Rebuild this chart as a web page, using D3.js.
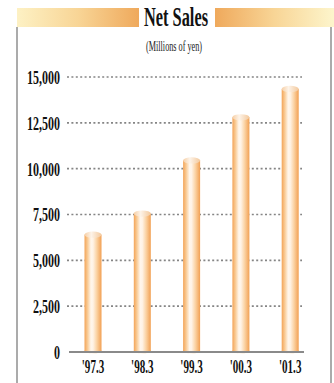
<!DOCTYPE html>
<html>
<head>
<meta charset="utf-8">
<script src="https://cdn.jsdelivr.net/npm/d3@7"></script>
<style>
html,body{margin:0;padding:0;background:#fff;}
svg{display:block;}
</style>
</head>
<body>
<svg id="chart" width="334" height="383"></svg>
<script>
const categories = ["'97.3", "'98.3", "'99.3", "'00.3", "'01.3"];
const netSales = [6400, 7550, 10450, 12800, 14350];
const tickValues = [0, 2500, 5000, 7500, 10000, 12500, 15000];
const titleText = "Net Sales";
const unitText = "(Millions of yen)";

const svg = d3.select("#chart");
const defs = svg.append("defs");
const serif = "'Liberation Serif','Times New Roman',serif";

// header gradients
const gL = defs.append("linearGradient").attr("id","hdrL").attr("x1","0").attr("x2","1");
gL.append("stop").attr("offset","0").attr("stop-color","#fdf1c4");
gL.append("stop").attr("offset","0.5").attr("stop-color","#f8d596");
gL.append("stop").attr("offset","1").attr("stop-color","#efa95c");
const gR = defs.append("linearGradient").attr("id","hdrR").attr("x1","0").attr("x2","1");
gR.append("stop").attr("offset","0").attr("stop-color","#efa95c");
gR.append("stop").attr("offset","0.5").attr("stop-color","#f8d596");
gR.append("stop").attr("offset","1").attr("stop-color","#fdf5cc");

// bar gradient
const gb = defs.append("linearGradient").attr("id","barG").attr("x1","0").attr("x2","1");
[["0","#f3a458"],["0.18","#f9cb95"],["0.38","#fff6ec"],["0.5","#fff3e6"],["0.72","#fbd3a4"],["1","#f2a053"]]
  .forEach(([o,c])=>gb.append("stop").attr("offset",o).attr("stop-color",c));
const gc = defs.append("linearGradient").attr("id","capG").attr("x1","0").attr("x2","1");
[["0","#f6cfa6"],["0.4","#fdf3e8"],["1","#f3c99d"]]
  .forEach(([o,c])=>gc.append("stop").attr("offset",o).attr("stop-color",c));

// header
svg.append("rect").attr("x",17).attr("y",8).attr("width",122).attr("height",19).attr("fill","url(#hdrL)");
svg.append("rect").attr("x",215).attr("y",8).attr("width",119).attr("height",19).attr("fill","url(#hdrR)");
svg.append("text").attr("x",144).attr("y",26).attr("textLength",64).attr("lengthAdjust","spacingAndGlyphs")
  .attr("font-family",serif).attr("font-weight","bold").attr("font-size",28).attr("fill","#111").text(titleText);
svg.append("text").attr("x",146).attr("y",51).attr("textLength",56).attr("lengthAdjust","spacingAndGlyphs")
  .attr("font-family",serif).attr("font-size",14).attr("fill","#222").text(unitText);

// frame lines
svg.append("line").attr("x1",17).attr("x2",17).attr("y1",27).attr("y2",383).attr("stroke","#8f8f8f").attr("stroke-width",1.5);
svg.append("line").attr("x1",331).attr("x2",331).attr("y1",27).attr("y2",383).attr("stroke","#8f8f8f").attr("stroke-width",1.5);

// scales
const y = d3.scaleLinear().domain([0,15000]).range([352,77]);
const x = d3.scaleBand().domain(categories).range([68.35,314.85]).paddingInner(0.655).paddingOuter(0.3275);

// grid
svg.append("g").selectAll("line").data(tickValues.filter(d=>d>0)).join("line")
  .attr("x1",67).attr("x2",302).attr("y1",d=>y(d)).attr("y2",d=>y(d))
  .attr("stroke","#858585").attr("stroke-width",1.6).attr("stroke-dasharray","2,2.4");

// y axis labels
const sx = 0.65;
const yAxis = svg.append("g").attr("transform","translate(60,0)")
  .call(d3.axisLeft(y).tickValues(tickValues).tickFormat(d3.format(",")).tickSize(0).tickPadding(0));
yAxis.select(".domain").remove();
yAxis.selectAll("text").attr("x",0).attr("dy","0.35em")
  .attr("transform",`scale(${sx},1)`)
  .attr("font-family",serif).attr("font-weight","bold").attr("font-size",18.5).attr("fill","#111");

// bars
const bw = x.bandwidth();
const bars = svg.append("g").selectAll("g").data(categories.map((c,i)=>({c,v:netSales[i]}))).join("g");
bars.append("ellipse").attr("cx",d=>x(d.c)+bw/2).attr("cy",y(0)-1).attr("rx",bw/2).attr("ry",2.5).attr("fill","url(#barG)");
bars.append("rect").attr("x",d=>x(d.c)).attr("width",bw).attr("y",d=>y(d.v)).attr("height",d=>y(0)-1-y(d.v)).attr("fill","url(#barG)");
bars.append("ellipse").attr("cx",d=>x(d.c)+bw/2).attr("cy",d=>y(d.v)).attr("rx",bw/2).attr("ry",3.2).attr("fill","url(#capG)");

// baseline
svg.append("line").attr("x1",69).attr("x2",304).attr("y1",y(0)).attr("y2",y(0)).attr("stroke","#8a8a8a").attr("stroke-width",2);

// x axis labels
const xAxis = svg.append("g").attr("transform",`translate(0,${y(0)+8})`)
  .call(d3.axisBottom(x).tickSize(0).tickPadding(0));
xAxis.select(".domain").remove();
xAxis.selectAll(".tick text").attr("y",0).attr("dy","0.71em")
  .attr("transform","scale(0.6,1)")
  .attr("font-family",serif).attr("font-weight","bold").attr("font-size",18.5).attr("fill","#111");
xAxis.selectAll(".tick").attr("transform",d=>`translate(${x(d)+bw/2},0)`);
</script>
</body>
</html>
